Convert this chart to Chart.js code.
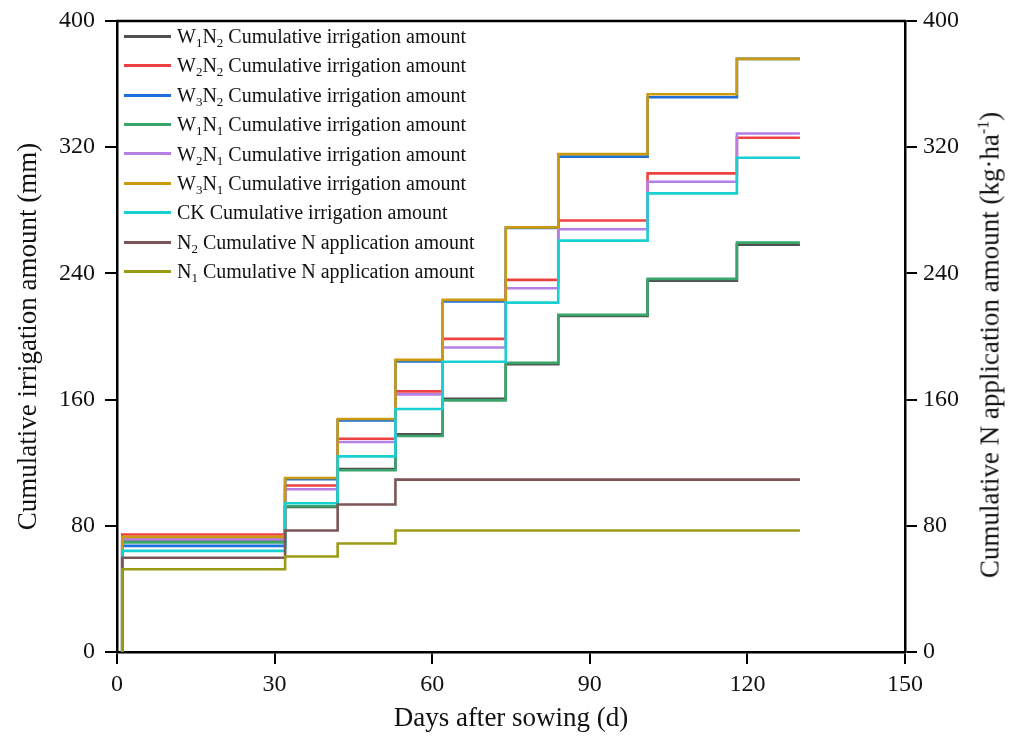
<!DOCTYPE html>
<html lang="en">
<head>
<meta charset="UTF-8" />
<title>Cumulative irrigation and N application</title>
<script src="https://cdn.jsdelivr.net/npm/chart.js"></script>
<style>
  body { margin: 0; background: #fff; }
  .wrap { position: relative; width: 1017px; height: 738px; }
  canvas { display: block; }
  .legenda {
    position: absolute; left: 124px; top: 23px;
    font-family: "Liberation Serif", serif; font-size: 20px; color: #111;
  }
  .legenda div { height: 29.4px; line-height: 26px; white-space: nowrap; }
  .legenda span.l {
    display: inline-block; width: 47px; height: 3px; vertical-align: middle;
    margin-right: 6px; position: relative; top: -2px;
  }
  .legenda sub { font-size: 13px; vertical-align: -4px; line-height: 0; }
  .titulo-dir {
    position: absolute; left: 990px; top: 345px; white-space: nowrap;
    font-family: "Liberation Serif", serif; font-size: 27px; color: #111;
    transform: translate(-50%, -50%) rotate(-90deg);
  }
  .titulo-dir sup { font-size: 16px; vertical-align: 10px; line-height: 0; }
</style>
</head>
<body>
<div class="wrap">
  <canvas id="grafico" width="1017" height="738"></canvas>
  <div class="legenda" id="legenda"></div>
  <div class="titulo-dir">Cumulative N application amount (kg·ha<sup>-1</sup>)</div>
</div>

<script>
// days where a new irrigation / N amount starts
var irrigDays = [1, 32, 42, 53, 62, 74, 84, 101, 118];
var nDays = [1, 32, 42, 53];
var endDay = 130;

// cumulative irrigation (mm)
var w1n2 = [70, 92, 116, 138, 160.5, 182.5, 213, 235.4, 258.2];
var w2n2 = [74.5, 105.5, 135.2, 165.2, 198.5, 235.9, 273.5, 303.4, 326];
var w3n2 = [67.3, 109.5, 146.8, 184.2, 222.2, 268.8, 314, 351.7, 376];
var w1n1 = [69.5, 92.4, 115.2, 136.9, 159.5, 183.3, 213.7, 236.5, 259.5];
var w2n1 = [71.5, 103.2, 133.1, 163.3, 193, 230.6, 268, 298.1, 328.7];
var w3n1 = [73, 110.3, 147.7, 185.2, 223.2, 269.2, 315.6, 353.6, 376];
var ck = [64.1, 94.3, 124, 154, 184, 221.5, 260.8, 290.7, 313.3];

// cumulative N (kg/ha)
var n2 = [59.7, 77, 93.5, 109.3];
var n1 = [52.5, 60.5, 68.8, 77];

var xTicks = [0, 30, 60, 90, 120, 150];
var yTicks = [0, 80, 160, 240, 320, 400];

function pontos(dias, vals) {
  var p = [{ x: dias[0], y: 0 }];
  for (var i = 0; i < dias.length; i++) {
    p.push({ x: dias[i], y: vals[i] });
  }
  p.push({ x: endDay, y: vals[vals.length - 1] });
  return p;
}

var series = [
  { sub: ["W", "1", "N", "2"], txt: " Cumulative irrigation amount", dias: irrigDays, vals: w1n2, cor: "#505050", eixo: "y" },
  { sub: ["W", "2", "N", "2"], txt: " Cumulative irrigation amount", dias: irrigDays, vals: w2n2, cor: "#ee4242", eixo: "y" },
  { sub: ["W", "3", "N", "2"], txt: " Cumulative irrigation amount", dias: irrigDays, vals: w3n2, cor: "#1d6fdc", eixo: "y" },
  { sub: ["W", "1", "N", "1"], txt: " Cumulative irrigation amount", dias: irrigDays, vals: w1n1, cor: "#3aa56a", eixo: "y" },
  { sub: ["W", "2", "N", "1"], txt: " Cumulative irrigation amount", dias: irrigDays, vals: w2n1, cor: "#b57fe3", eixo: "y" },
  { sub: ["W", "3", "N", "1"], txt: " Cumulative irrigation amount", dias: irrigDays, vals: w3n1, cor: "#cc9a10", eixo: "y" },
  { sub: ["CK"], txt: " Cumulative irrigation amount", dias: irrigDays, vals: ck, cor: "#18cfd2", eixo: "y" },
  { sub: ["N", "2"], txt: " Cumulative N application amount", dias: nDays, vals: n2, cor: "#7c5656", eixo: "y2" },
  { sub: ["N", "1"], txt: " Cumulative N application amount", dias: nDays, vals: n1, cor: "#9b9b18", eixo: "y2" }
];

// legenda em html por causa dos subscritos
var leg = document.getElementById("legenda");
for (var i = 0; i < series.length; i++) {
  var s = series[i];
  var html = '<span class="l" style="background:' + s.cor + '"></span>';
  for (var k = 0; k < s.sub.length; k++) {
    html += (k % 2 == 1) ? "<sub>" + s.sub[k] + "</sub>" : s.sub[k];
  }
  html += s.txt;
  var row = document.createElement("div");
  row.innerHTML = html;
  leg.appendChild(row);
}

var datasets = [];
for (var i = 0; i < series.length; i++) {
  datasets.push({
    label: series[i].sub.join("") + series[i].txt,
    data: pontos(series[i].dias, series[i].vals),
    borderColor: series[i].cor,
    borderWidth: 2.6,
    pointRadius: 0,
    stepped: "before",
    fill: false,
    yAxisID: series[i].eixo,
    order: -i
  });
}

var fonte = { family: "Liberation Serif", size: 24 };
var fonteTitulo = { family: "Liberation Serif", size: 27 };

// linha de cima da caixa
var bordaTopo = {
  id: "bordaTopo",
  afterDraw: function (chart) {
    var a = chart.chartArea;
    var ctx = chart.ctx;
    ctx.save();
    ctx.strokeStyle = "#000";
    ctx.lineWidth = 2.5;
    ctx.beginPath();
    ctx.moveTo(a.left - 1, a.top);
    ctx.lineTo(a.right + 1, a.top);
    ctx.stroke();
    ctx.restore();
  }
};

function eixoY(pos, titulo, largura, pad) {
  return {
    type: "linear",
    position: pos,
    min: 0,
    max: 400,
    afterBuildTicks: function (axis) {
      axis.ticks = yTicks.map(function (v) { return { value: v }; });
    },
    afterFit: function (axis) {
      axis.width = largura;
      axis.paddingTop = 0;
      axis.paddingBottom = 0;
    },
    grid: { drawOnChartArea: false, color: "#000", tickLength: 12, lineWidth: 2 },
    border: { color: "#000", width: 2.5 },
    ticks: { color: "#111", font: fonte, padding: pad },
    title: titulo
  };
}

new Chart(document.getElementById("grafico"), {
  type: "line",
  data: { datasets: datasets },
  options: {
    responsive: false,
    animation: false,
    layout: { padding: { top: 21, left: 0, right: 0, bottom: 0 } },
    plugins: { legend: { display: false }, tooltip: { enabled: false } },
    scales: {
      x: {
        type: "linear",
        min: 0,
        max: 150,
        afterBuildTicks: function (axis) {
          axis.ticks = xTicks.map(function (v) { return { value: v }; });
        },
        afterFit: function (axis) {
          axis.height = 86;
          axis.paddingLeft = 0;
          axis.paddingRight = 0;
        },
        grid: { drawOnChartArea: false, color: "#000", tickLength: 12, lineWidth: 2 },
        border: { color: "#000", width: 2.5 },
        ticks: { color: "#111", font: fonte, padding: 6, maxRotation: 0 },
        title: { display: true, text: "Days after sowing (d)", color: "#111", font: fonteTitulo, padding: { top: 0, bottom: 3 } }
      },
      y: eixoY("left", { display: true, text: "Cumulative irrigation amount (mm)", color: "#111", font: fonteTitulo, padding: { top: 13, bottom: 0 } }, 117, 10),
      y2: eixoY("right", { display: false }, 112, 6)
    }
  },
  plugins: [bordaTopo]
});
</script>
</body>
</html>
